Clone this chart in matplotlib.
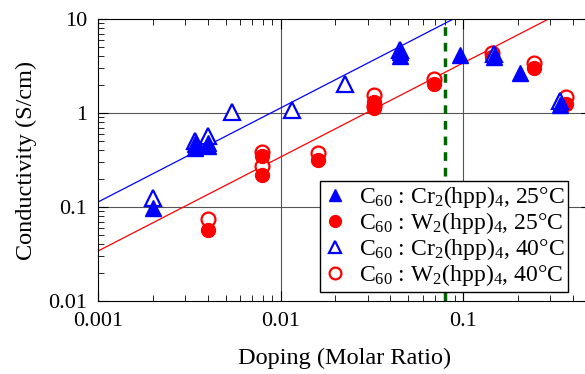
import numpy as np
import matplotlib
matplotlib.use('Agg')
import matplotlib.pyplot as plt
from matplotlib.ticker import FixedLocator, FixedFormatter, LogLocator, NullFormatter

plt.rcParams['font.family'] = ['Liberation Serif', 'DejaVu Serif']
plt.rcParams['mathtext.fontset'] = 'custom'
plt.rcParams['mathtext.rm'] = 'Liberation Serif'
plt.rcParams['mathtext.it'] = 'Liberation Serif:italic'

# C60 : Cr2(hpp)4, 25C (filled triangles)
cr25_x = [0.002, 0.0034, 0.0034, 0.004, 0.004, 0.045, 0.045, 0.096, 0.148, 0.205, 0.34]
cr25_y = [0.097, 0.42, 0.47, 0.45, 0.48, 4.0, 4.5, 4.1, 3.95, 2.67, 1.22]
# C60 : W2(hpp)4, 25C (filled circles)
w25_x = [0.004, 0.0079, 0.0079, 0.016, 0.0325, 0.0325, 0.069, 0.145, 0.245, 0.365]
w25_y = [0.057, 0.22, 0.35, 0.32, 1.12, 1.3, 2.04, 3.9, 3.0, 1.25]
# C60 : Cr2(hpp)4, 40C (open triangles)
cr40_x = [0.002, 0.0034, 0.004, 0.0054, 0.0115, 0.0225, 0.045, 0.148, 0.34]
cr40_y = [0.125, 0.5, 0.57, 1.03, 1.08, 2.04, 4.7, 4.2, 1.35]
# C60 : W2(hpp)4, 40C (open circles)
w40_x = [0.004, 0.0079, 0.0079, 0.016, 0.0325, 0.0325, 0.069, 0.145, 0.245, 0.365]
w40_y = [0.074, 0.27, 0.385, 0.375, 1.2, 1.55, 2.3, 4.35, 3.4, 1.48]

# linear fits (slope 1 on log-log)
fit_cr = 113.0
fit_w = 34.0
threshold = 0.08

fig = plt.figure(figsize=(5.85, 3.74), dpi=100)
ax = fig.add_axes([98 / 585, 1 - 301 / 374, 492.6 / 585, 282 / 374])
ax.set_xscale('log')
ax.set_yscale('log')
ax.set_xlim(0.001, 0.5)
ax.set_ylim(0.01, 10)

for v in [0.01, 0.1]:
    ax.axvline(v, color='#555555', lw=0.8, zorder=1)
for v in [0.1, 1]:
    ax.axhline(v, color='#555555', lw=0.8, zorder=1)

xf = np.array([0.001, 0.5])
ax.plot(xf, fit_cr * xf, color='blue', lw=0.9, zorder=2)
ax.plot(xf, fit_w * xf, color='red', lw=0.9, zorder=2)
ax.axvline(threshold, color='#006400', lw=2.5, ls=(0, (2.5, 2)), zorder=2)

w40, = ax.plot(w40_x, w40_y, 'o', ms=10, mfc='white', mec='red', mew=1.6, ls='none', zorder=3)
w25, = ax.plot(w25_x, w25_y, 'o', ms=10, color='red', ls='none', zorder=4)
cr40, = ax.plot(cr40_x, cr40_y, '^', ms=11, mfc='white', mec='blue', mew=1.6, ls='none', zorder=5)
cr25, = ax.plot(cr25_x, cr25_y, '^', ms=11, color='blue', ls='none', zorder=6)

ax.legend([cr25, w25, cr40, w40],
          [r'C$_{60}$ : Cr$_2$(hpp)$_4$, 25°C',
           r'C$_{60}$ : W$_2$(hpp)$_4$, 25°C',
           r'C$_{60}$ : Cr$_2$(hpp)$_4$, 40°C',
           r'C$_{60}$ : W$_2$(hpp)$_4$, 40°C'],
          loc='lower left', bbox_to_anchor=(222 / 492.6, 0.032), fontsize=17,
          frameon=True, fancybox=False, edgecolor='black', framealpha=1,
          handletextpad=0.5, handlelength=1.0, borderpad=0.15, labelspacing=0.0,
          borderaxespad=0, markerscale=0.85)

ax.xaxis.set_major_locator(FixedLocator([0.001, 0.01, 0.1]))
ax.xaxis.set_major_formatter(FixedFormatter(['0.001', '0.01', '0.1']))
ax.yaxis.set_major_locator(FixedLocator([0.01, 0.1, 1, 10]))
ax.yaxis.set_major_formatter(FixedFormatter(['0.01', '0.1', '1', '10']))
ax.xaxis.set_minor_locator(LogLocator(base=10, subs=np.arange(2, 10)))
ax.yaxis.set_minor_locator(LogLocator(base=10, subs=np.arange(2, 10)))
ax.xaxis.set_minor_formatter(NullFormatter())
ax.yaxis.set_minor_formatter(NullFormatter())
ax.tick_params(which='both', direction='in', top=True, right=True, labelsize=16, pad=8)
ax.tick_params(which='major', length=7)
ax.tick_params(which='minor', length=4)

ax.set_xlabel('Doping (Molar Ratio)', fontsize=17.5, labelpad=12)
ax.set_ylabel('Conductivity (S/cm)', fontsize=17.5, labelpad=8)

fig.savefig('out.png', dpi=100)
